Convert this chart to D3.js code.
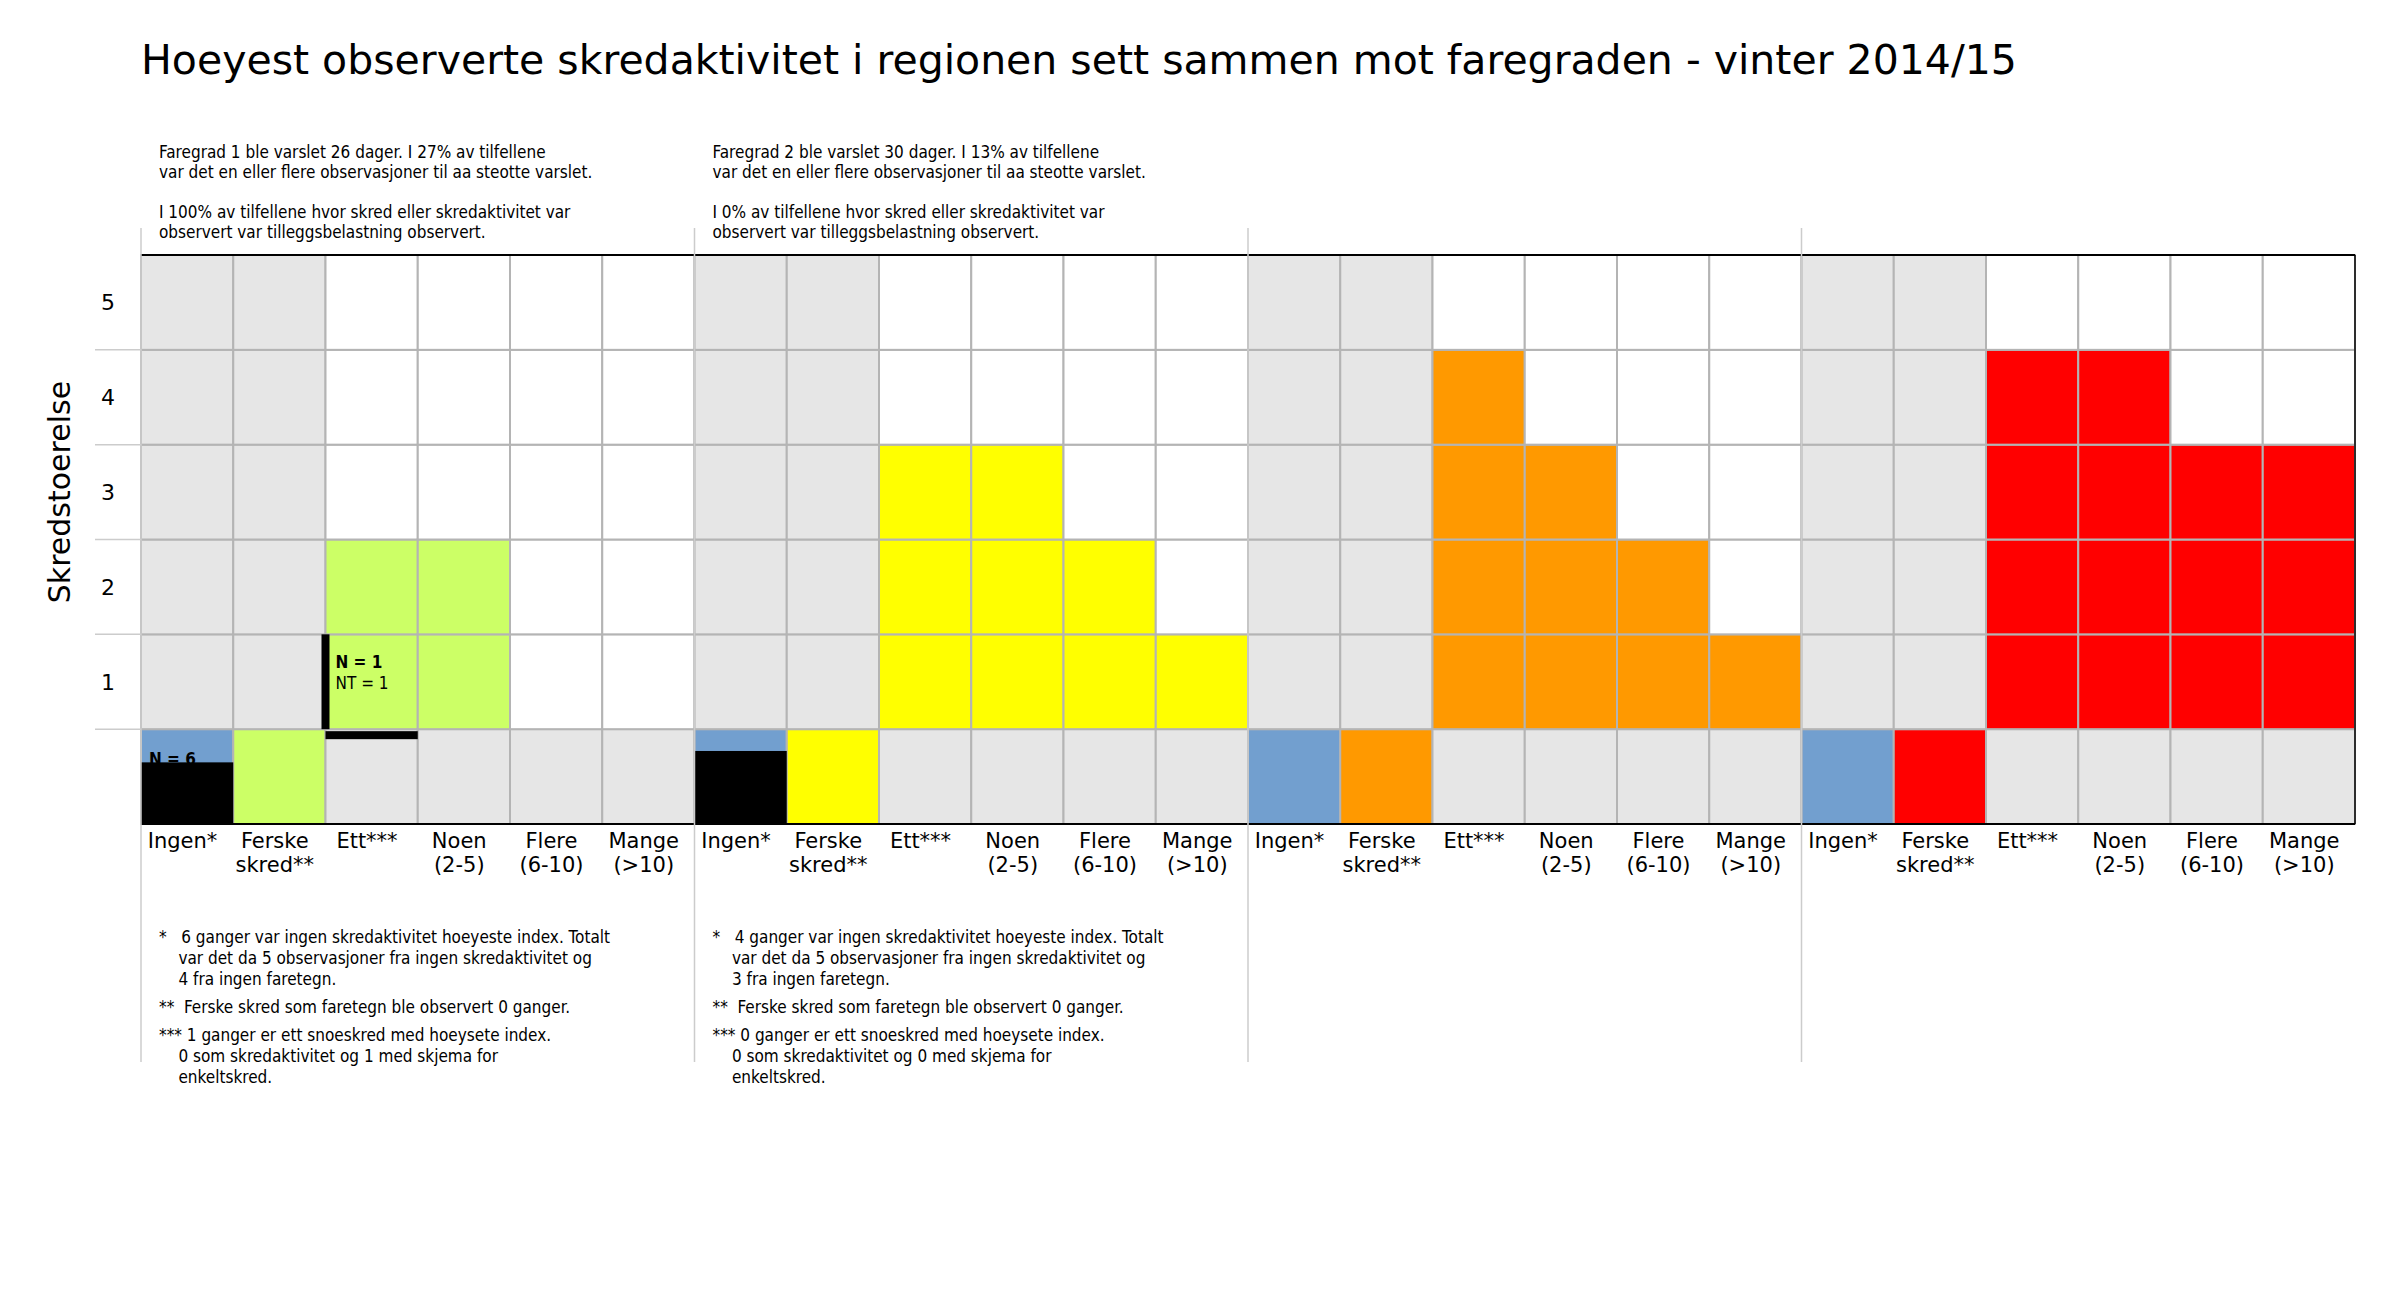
<!DOCTYPE html>
<html><head><meta charset="utf-8">
<script src="https://cdn.jsdelivr.net/npm/d3@7"></script>
<style>body{margin:0;background:#fff}text{font-family:"DejaVu Sans",sans-serif}.cond{font-family:"DejaVu Sans Condensed","DejaVu Sans",sans-serif}</style>
</head><body><svg id="c" width="2400" height="1300"></svg>
<script>
// data
var groups = ["1", "2", "3", "4"];
var groupColors = ["#ccff66", "#ffff00", "#ff9900", "#ff0000"];
var columns = ["Ingen*", "Ferske\nskred**", "Ett***", "Noen\n(2-5)", "Flere\n(6-10)", "Mange\n(>10)"];
var sizes = [1, 2, 3, 4, 5];
// highest avalanche size observed for Ett, Noen, Flere, Mange per faregrad
var maxSize = [[2, 2, 0, 0], [3, 3, 2, 1], [4, 3, 2, 1], [4, 4, 3, 3]];
// share of "Ingen" days with black bar (no activity)
var ingenBlack = [0.65, 0.77, 0, 0];
var headerText = [
  ["Faregrad 1 ble varslet 26 dager. I 27% av tilfellene", "var det en eller flere observasjoner til aa steotte varslet.", "", "I 100% av tilfellene hvor skred eller skredaktivitet var", "observert var tilleggsbelastning observert."],
  ["Faregrad 2 ble varslet 30 dager. I 13% av tilfellene", "var det en eller flere observasjoner til aa steotte varslet.", "", "I 0% av tilfellene hvor skred eller skredaktivitet var", "observert var tilleggsbelastning observert."],
  [], []];
var footText = [
  [["*   6 ganger var ingen skredaktivitet hoeyeste index. Totalt", "    var det da 5 observasjoner fra ingen skredaktivitet og", "    4 fra ingen faretegn."], ["**  Ferske skred som faretegn ble observert 0 ganger."], ["*** 1 ganger er ett snoeskred med hoeysete index.", "    0 som skredaktivitet og 1 med skjema for", "    enkeltskred."]],
  [["*   4 ganger var ingen skredaktivitet hoeyeste index. Totalt", "    var det da 5 observasjoner fra ingen skredaktivitet og", "    3 fra ingen faretegn."], ["**  Ferske skred som faretegn ble observert 0 ganger."], ["*** 0 ganger er ett snoeskred med hoeysete index.", "    0 som skredaktivitet og 0 med skjema for", "    enkeltskred."]],
  [], []];

var svg = d3.select("#c");
var L = 141, R = 2355, T = 255, B = 824;
var nCol = groups.length * columns.length;
var x = d3.scaleLinear().domain([0, nCol]).range([L, R]);
var y = d3.scaleLinear().domain([0, 6]).range([B, T]);
var cw = x(1) - x(0), rh = y(0) - y(1);

svg.append("text").attr("x", L).attr("y", 74).attr("font-size", 41).text("Hoeyest observerte skredaktivitet i regionen sett sammen mot faregraden - vinter 2014/15");

var cells = [];
groups.forEach(function(g, gi) {
  columns.forEach(function(c, ci) {
    for (var r = 0; r <= 5; r++) {
      var fill;
      if (ci < 2) {
        fill = r > 0 ? "#e6e6e6" : (ci == 0 ? "#729fcf" : groupColors[gi]);
      } else {
        fill = r == 0 ? "#e6e6e6" : (r <= maxSize[gi][ci - 2] ? groupColors[gi] : "#ffffff");
      }
      cells.push({col: gi * 6 + ci, row: r, fill: fill});
    }
  });
});

svg.selectAll("rect.cell").data(cells).enter().append("rect").attr("class", "cell")
  .attr("x", function(d) { return x(d.col); })
  .attr("y", function(d) { return y(d.row + 1); })
  .attr("width", cw).attr("height", rh)
  .attr("fill", function(d) { return d.fill; })
  .attr("stroke", "#b4b4b4").attr("stroke-width", 2);

// black bars for Ingen
svg.selectAll("rect.blk").data(ingenBlack.filter(function(v) { return v > 0; })).enter().append("rect")
  .attr("x", function(d, i) { return x(i * 6); })
  .attr("y", function(d) { return y(d); })
  .attr("width", cw).attr("height", function(d) { return y(0) - y(d); })
  .attr("fill", "#000");
svg.append("text").attr("class", "cond").attr("x", x(0) + 8).attr("y", y(ingenBlack[0]) + 3)
  .attr("font-size", 17).attr("font-weight", "bold").text("N = 6");

// Ett markers in group 1
svg.append("rect").attr("x", x(2) - 4).attr("y", y(2)).attr("width", 8).attr("height", rh).attr("fill", "#000");
svg.append("rect").attr("x", x(2)).attr("y", y(1) + 2).attr("width", cw).attr("height", 8).attr("fill", "#000");
svg.append("text").attr("class", "cond").attr("x", x(2) + 10).attr("y", y(1.65)).attr("font-size", 17).attr("font-weight", "bold").text("N = 1");
svg.append("text").attr("class", "cond").attr("x", x(2) + 10).attr("y", y(1.42)).attr("font-size", 17).text("NT = 1");

// frame
svg.append("line").attr("x1", L).attr("x2", R).attr("y1", T).attr("y2", T).attr("stroke", "#000").attr("stroke-width", 2);
svg.append("line").attr("x1", L).attr("x2", R).attr("y1", B).attr("y2", B).attr("stroke", "#000").attr("stroke-width", 2);
svg.append("line").attr("x1", R).attr("x2", R).attr("y1", T).attr("y2", B).attr("stroke", "#000").attr("stroke-width", 1.5);

// group separators
svg.selectAll("line.sep").data(groups).enter().append("line")
  .attr("x1", function(d, i) { return x(i * 6); }).attr("x2", function(d, i) { return x(i * 6); })
  .attr("y1", 228).attr("y2", 1062).attr("stroke", "#cccccc").attr("stroke-width", 1.5);

// y ticks
svg.selectAll("line.yt").data([1, 2, 3, 4, 5]).enter().append("line")
  .attr("x1", 95).attr("x2", L).attr("y1", function(d) { return y(d); }).attr("y2", function(d) { return y(d); })
  .attr("stroke", "#cccccc").attr("stroke-width", 1.5);
svg.selectAll("text.yl").data(sizes).enter().append("text")
  .attr("x", 108).attr("y", function(d) { return y(d + 0.5) + 8; })
  .attr("text-anchor", "middle").attr("font-size", 22).text(function(d) { return d; });
svg.append("text").attr("transform", "translate(70," + y(3.5) + ") rotate(-90)")
  .attr("text-anchor", "middle").attr("font-size", 30).text("Skredstoerelse");

// x labels
groups.forEach(function(g, gi) {
  columns.forEach(function(c, ci) {
    var t = svg.append("text").attr("font-size", 21).attr("text-anchor", "middle");
    c.split("\n").forEach(function(line, li) {
      t.append("tspan").attr("x", x(gi * 6 + ci + 0.45)).attr("y", 848 + li * 24).text(line);
    });
  });
  var h = svg.append("text").attr("class", "cond").attr("font-size", 17);
  headerText[gi].forEach(function(line, li) {
    h.append("tspan").attr("x", x(gi * 6) + 18).attr("y", 158 + li * 20).text(line);
  });
  var yy = 943;
  footText[gi].forEach(function(block) {
    var f = svg.append("text").attr("class", "cond").attr("font-size", 17).attr("xml:space", "preserve");
    block.forEach(function(line) {
      f.append("tspan").attr("x", x(gi * 6) + 18).attr("y", yy).text(line);
      yy += 21;
    });
    yy += 7;
  });
});
</script></body></html>
